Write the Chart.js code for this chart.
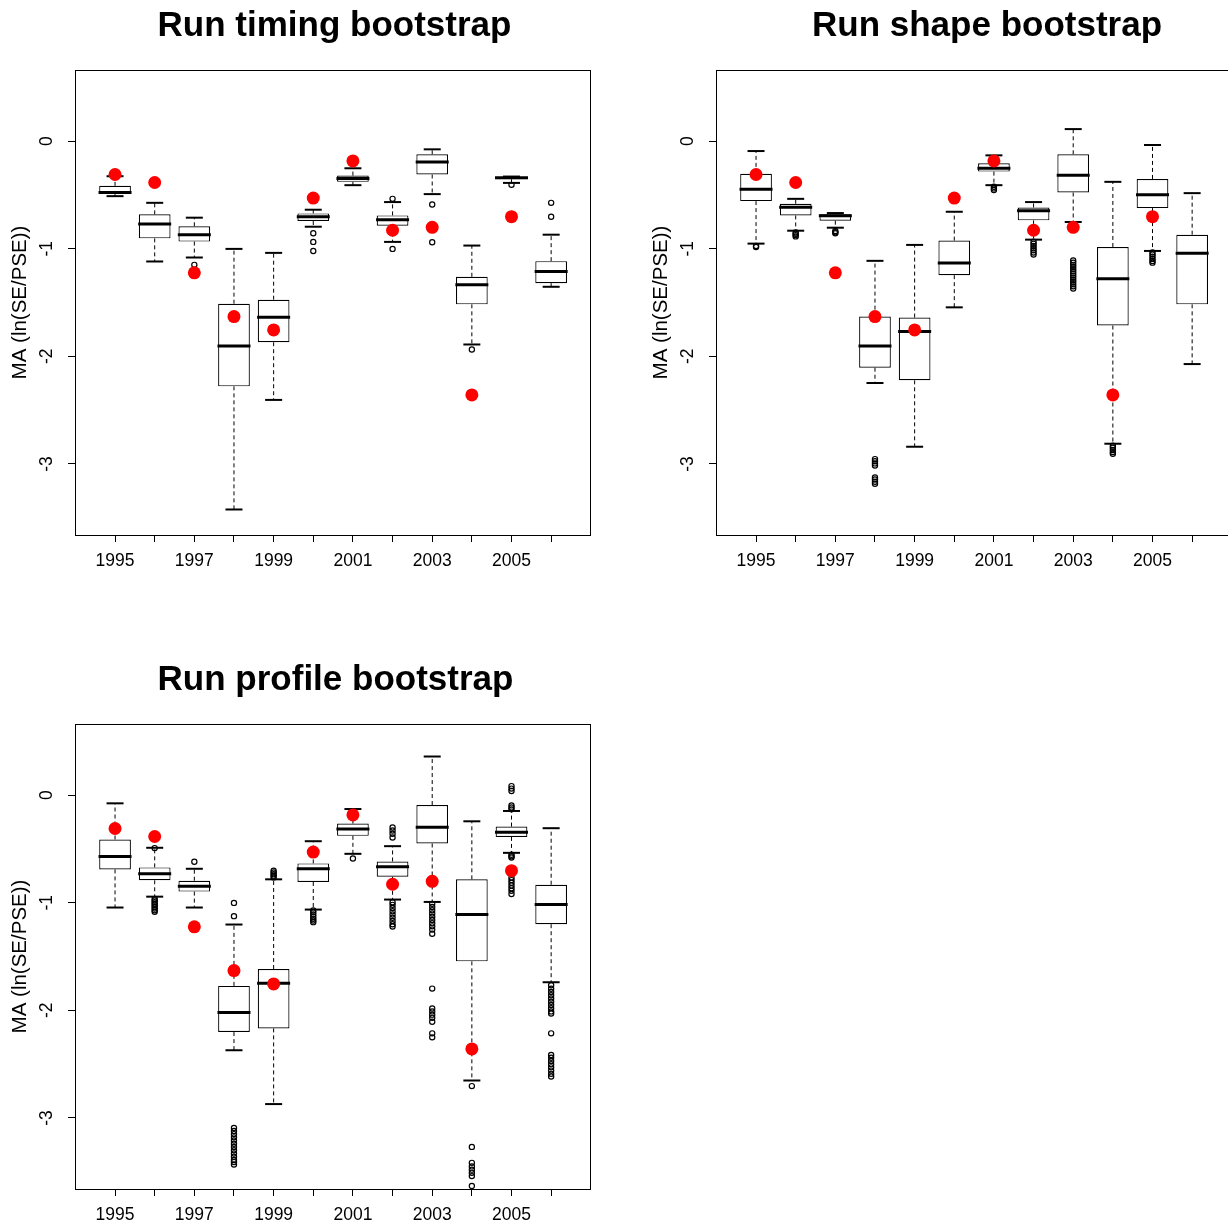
<!DOCTYPE html>
<html>
<head>
<meta charset="utf-8">
<title>MA bootstrap by year</title>
<script src="https://cdn.jsdelivr.net/npm/chart.js@4.4.1/dist/chart.umd.min.js"></script>
<style>
  html, body { margin: 0; padding: 0; background: #fff; overflow: hidden; }
  #page { position: relative; width: 1228px; height: 1226px; overflow: hidden; }
  canvas { position: absolute; }
</style>
</head>
<body>
<div id="page">
  <canvas id="timing" width="614" height="600" style="left:0;top:0"></canvas>
  <canvas id="shape" width="614" height="600" style="left:641px;top:0"></canvas>
  <canvas id="profile" width="614" height="600" style="left:0;top:654px"></canvas>
</div>
<script>
const years = ["1995", "1996", "1997", "1998", "1999", "2000", "2001", "2002", "2003", "2004", "2005", "2006"];
const yTicks = [0, -1, -2, -3];

// observed values (red dots), same in all three panels
const observed = [-0.311, -0.385, -1.224, -1.631, -1.755, -0.530, -0.185, -0.829, -0.802, -2.359, -0.703, null];

// run timing bootstrap
const timingLo  = [-0.512, -1.119, -1.082, -3.423, -2.405, -0.796, -0.410, -0.937, -0.493, -1.890, -0.389, -1.354];
const timingQ1  = [-0.493, -0.904, -0.934, -2.279, -1.869, -0.743, -0.379, -0.786, -0.311, -1.517, -0.355, -1.320];
const timingMed = [-0.478, -0.771, -0.870, -1.903, -1.637, -0.703, -0.348, -0.731, -0.194, -1.335, -0.342, -1.212];
const timingQ3  = [-0.416, -0.681, -0.792, -1.511, -1.474, -0.672, -0.321, -0.691, -0.123, -1.261, -0.333, -1.116];
const timingHi  = [-0.327, -0.574, -0.712, -1.002, -1.039, -0.638, -0.253, -0.567, -0.077, -0.971, -0.330, -0.870];
const timingOut = [
  [], [], [-1.15], [], [], [-0.857, -0.937, -1.021], [], [-0.537, -1.002],
  [-0.589, -0.940], [-1.937], [-0.407], [-0.574, -0.703]
];

// run shape bootstrap
const shapeLo  = [-0.953, -0.833, -0.805, -2.248, -2.840, -1.545, -0.410, -0.916, -0.752, -2.812, -1.021, -2.072];
const shapeQ1  = [-0.558, -0.691, -0.740, -2.106, -2.223, -1.246, -0.284, -0.737, -0.478, -1.714, -0.623, -1.517];
const shapeMed = [-0.447, -0.614, -0.694, -1.903, -1.770, -1.132, -0.253, -0.648, -0.318, -1.280, -0.500, -1.042];
const shapeQ3  = [-0.305, -0.583, -0.681, -1.631, -1.640, -0.925, -0.207, -0.617, -0.123, -0.984, -0.352, -0.870];
const shapeHi  = [-0.093, -0.537, -0.669, -1.113, -0.965, -0.657, -0.133, -0.567, 0.111, -0.379, -0.037, -0.484];
const shapeOut = [
  [-0.975, -0.985],
  [-0.850, -0.862, -0.874, -0.886],
  [-0.835, -0.848, -0.857],
  [-2.955, -2.975, -2.995, -3.015, -3.125, -3.145, -3.165, -3.185],
  [],
  [],
  [-0.425, -0.440, -0.455],
  [-0.935, -0.955, -0.975, -0.995, -1.015, -1.035, -1.055],
  [-1.11, -1.13, -1.15, -1.17, -1.19, -1.21, -1.23, -1.25, -1.27, -1.29, -1.31, -1.33, -1.35, -1.37],
  [-2.83, -2.85, -2.87, -2.89, -2.905],
  [-1.035, -1.055, -1.075, -1.095, -1.115, -1.13],
  []
];

// run profile bootstrap
const profileLo  = [-1.045, -0.944, -1.045, -2.371, -2.871, -1.064, -0.546, -0.971, -0.993, -2.652, -0.537, -1.739];
const profileQ1  = [-0.691, -0.792, -0.897, -2.202, -2.168, -0.808, -0.379, -0.759, -0.450, -1.545, -0.389, -1.200];
const profileMed = [-0.570, -0.731, -0.848, -2.020, -1.748, -0.685, -0.315, -0.666, -0.299, -1.110, -0.345, -1.018];
const profileQ3  = [-0.413, -0.672, -0.796, -1.773, -1.616, -0.635, -0.265, -0.617, -0.093, -0.783, -0.293, -0.833];
const profileHi  = [-0.077, -0.490, -0.685, -1.203, -0.783, -0.429, -0.130, -0.475, 0.358, -0.244, -0.148, -0.308];
const profileOut = [
  [],
  [-0.493, -0.965, -0.980, -0.995, -1.010, -1.025, -1.040, -1.055, -1.070, -1.085],
  [-0.620],
  [-1.002, -1.125, -3.093, -3.12, -3.15, -3.18, -3.21, -3.24, -3.27, -3.30, -3.33, -3.36, -3.39, -3.41, -3.432],
  [-0.703, -0.720, -0.735, -0.750, -0.765],
  [-1.073, -1.090, -1.110, -1.130, -1.150, -1.165, -1.181],
  [-0.589],
  [-0.302, -0.330, -0.360, -0.395, -0.996, -1.02, -1.05, -1.08, -1.11, -1.14, -1.17, -1.20, -1.221],
  [-1.011, -1.04, -1.07, -1.10, -1.13, -1.16, -1.19, -1.22, -1.25, -1.289, -1.798, -1.983, -2.01, -2.04, -2.07, -2.106, -2.214, -2.251],
  [-2.704, -3.269, -3.417, -3.45, -3.48, -3.51, -3.540, -3.632],
  [0.083, 0.060, 0.037, -0.096, -0.115, -0.133, -0.555, -0.568, -0.580, -0.765, -0.79, -0.815, -0.84, -0.865, -0.89, -0.919],
  [-1.767, -1.80, -1.83, -1.86, -1.89, -1.92, -1.95, -1.98, -2.01, -2.029, -2.214, -2.414, -2.44, -2.47, -2.50, -2.53, -2.56, -2.59, -2.615]
];

Chart.defaults.font.family = '"Liberation Sans", Arial, sans-serif';
Chart.defaults.color = "#000";

// frame, rotated y tick labels and the bold main title (R style)
const rDecor = {
  id: "rDecor",
  afterDraw(chart, args, opts) {
    const { ctx, chartArea: a } = chart;
    const y = chart.scales.y;
    ctx.save();
    ctx.strokeStyle = "#000";
    ctx.lineWidth = 1;
    ctx.strokeRect(a.left + 0.5, a.top + 0.5, a.right - a.left, a.bottom - a.top);

    ctx.fillStyle = "#000";
    ctx.font = '17.5px "Liberation Sans", Arial, sans-serif';
    ctx.textAlign = "center";
    ctx.textBaseline = "middle";
    yTicks.forEach((v) => {
      ctx.save();
      ctx.translate(47, y.getPixelForValue(v));
      ctx.rotate(-Math.PI / 2);
      ctx.fillText(String(v), 0, 0);
      ctx.restore();
    });

    ctx.font = 'bold 35px "Liberation Sans", Arial, sans-serif';
    ctx.textBaseline = "alphabetic";
    ctx.fillText(opts.text, opts.x, 36);
    ctx.restore();
  }
};

function makePanel(id, title, titleX, lo, q1, med, q3, hi, out) {
  const boxes = q1.map((v, i) => ({ x: i + 1, y: [v, q3[i]] }));
  const medians = med.map((v, i) => ({ x: i + 1, y: v }));
  const caps = [];
  const whiskers = [];
  lo.forEach((v, i) => {
    caps.push({ x: i + 1, y: v }, { x: i + 1, y: hi[i] });
    whiskers.push({ x: i + 1, y: q3[i] }, { x: i + 1, y: hi[i] }, { x: i + 1, y: null });
    whiskers.push({ x: i + 1, y: q1[i] }, { x: i + 1, y: v }, { x: i + 1, y: null });
  });
  const outliers = out.flatMap((arr, i) => arr.map((v) => ({ x: i + 1, y: v })));
  const obs = observed.map((v, i) => (v === null ? null : { x: i + 1, y: v })).filter(Boolean);

  return new Chart(document.getElementById(id), {
    type: "bar",
    data: {
      datasets: [
        {
          type: "line",
          data: whiskers,
          borderColor: "#000",
          borderWidth: 1,
          borderDash: [4, 3],
          pointRadius: 0,
          spanGaps: false,
          order: 5
        },
        {
          type: "bar",
          data: boxes,
          backgroundColor: "#fff",
          borderColor: "#000",
          borderWidth: 1.2,
          borderSkipped: false,
          categoryPercentage: 0.8,
          barPercentage: 1.0,
          order: 4
        },
        {
          type: "scatter",
          data: caps,
          pointStyle: "line",
          pointRadius: 8.5,
          pointBorderWidth: 2,
          pointBorderColor: "#000",
          order: 3
        },
        {
          type: "scatter",
          data: medians,
          pointStyle: "line",
          pointRadius: 16.5,
          pointBorderWidth: 3,
          pointBorderColor: "#000",
          order: 2
        },
        {
          type: "scatter",
          data: outliers,
          pointStyle: "circle",
          pointRadius: 2.6,
          pointBorderWidth: 1.2,
          pointBorderColor: "#000",
          pointBackgroundColor: "rgba(0,0,0,0)",
          order: 1
        },
        {
          type: "scatter",
          data: obs,
          pointStyle: "circle",
          pointRadius: 6.5,
          pointBorderWidth: 0,
          pointBackgroundColor: "#ff0000",
          order: 0
        }
      ]
    },
    options: {
      responsive: false,
      animation: false,
      events: [],
      layout: { padding: { top: 70, left: 0, right: 24, bottom: 0 } },
      plugins: {
        legend: { display: false },
        tooltip: { enabled: false },
        rDecor: { text: title, x: titleX }
      },
      scales: {
        x: {
          type: "linear",
          min: -0.01,
          max: 12.98,
          offset: false,
          afterBuildTicks: (s) => { s.ticks = years.map((y, i) => ({ value: i + 1 })); },
          afterFit: (s) => { s.height = 65; },
          border: { display: false },
          grid: { offset: false, drawOnChartArea: false, drawTicks: true, tickLength: 7, color: "#000" },
          ticks: {
            autoSkip: false,
            maxRotation: 0,
            padding: 9,
            font: { size: 17.5 },
            callback: (v) => (v % 2 === 1 ? years[v - 1] : "")
          }
        },
        y: {
          type: "linear",
          min: -3.66,
          max: 0.66,
          beginAtZero: false,
          afterBuildTicks: (s) => { s.ticks = yTicks.map((v) => ({ value: v })); },
          afterFit: (s) => { s.width = 75; },
          border: { display: false },
          grid: { drawOnChartArea: false, drawTicks: true, tickLength: 7, color: "#000" },
          ticks: { display: false },
          title: {
            display: true,
            text: "MA (ln(SE/PSE))",
            font: { size: 20.5 },
            padding: { top: 8, bottom: 0 }
          }
        }
      }
    },
    plugins: [rDecor]
  });
}

makePanel("timing", "Run timing bootstrap", 334.5,
  timingLo, timingQ1, timingMed, timingQ3, timingHi, timingOut);
makePanel("shape", "Run shape bootstrap", 346,
  shapeLo, shapeQ1, shapeMed, shapeQ3, shapeHi, shapeOut);
makePanel("profile", "Run profile bootstrap", 335.5,
  profileLo, profileQ1, profileMed, profileQ3, profileHi, profileOut);
</script>
</body>
</html>
